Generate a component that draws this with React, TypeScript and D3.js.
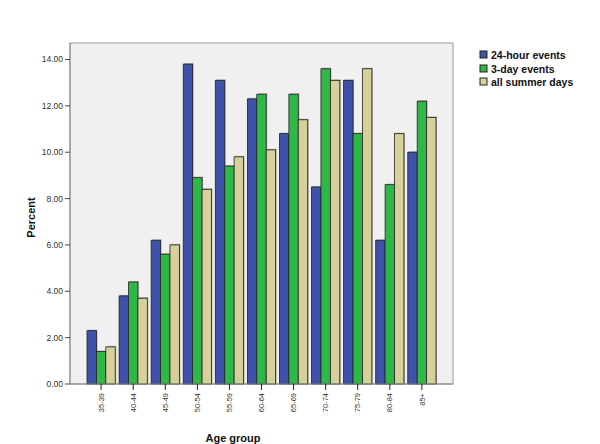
import React from "react";
import * as d3 from "d3";

const categories = ["35-39", "40-44", "45-49", "50-54", "55-59", "60-64", "65-69", "70-74", "75-79", "80-84", "85+"];
const seriesNames = ["24-hour events", "3-day events", "all summer days"];
const hour24 = [2.3, 3.8, 6.2, 13.8, 13.1, 12.3, 10.8, 8.5, 13.1, 6.2, 10.0];
const day3 = [1.4, 4.4, 5.6, 8.9, 9.4, 12.5, 12.5, 13.6, 10.8, 8.6, 12.2];
const summer = [1.6, 3.7, 6.0, 8.4, 9.8, 10.1, 11.4, 13.1, 13.6, 10.8, 11.5];
const yTicks = [0, 2, 4, 6, 8, 10, 12, 14];
const colors = ["#3d52a8", "#2fb847", "#d6d099"];

export default function App() {
  const W = 600, H = 444;
  const left = 70, right = 453, top = 43, bottom = 384;
  const x = d3.scaleBand<string>().domain(categories).range([87, 436]).paddingInner(0.12).paddingOuter(0);
  const sub = d3.scaleBand<number>().domain([0, 1, 2]).range([0, x.bandwidth()]);
  const y = d3.scaleLinear().domain([0, 14]).range([bottom, 59.5]);
  const series = [hour24, day3, summer];
  const font = "Arial, 'Liberation Sans', sans-serif";
  return (
    <svg width={W} height={H} style={{ position: "absolute", left: 0, top: 0, background: "#fff" }} fontFamily={font}>
      <rect x={left} y={top} width={right - left} height={bottom - top} fill="#f0f0f0" stroke="#999" strokeWidth={1} />
      {categories.map((c, i) =>
        series.map((s, j) => {
          const bx = (x(c) as number) + (sub(j) as number);
          const by = y(s[i]);
          return (
            <g key={c + j}>
              <rect x={bx + 1} y={by - 1} width={sub.bandwidth()} height={bottom - by + 1} fill="#777" opacity={0.6} />
              <rect x={bx} y={by} width={sub.bandwidth()} height={bottom - by} fill={colors[j]} stroke="#222" strokeWidth={0.8} />
            </g>
          );
        })
      )}
      <line x1={left} x2={left} y1={top} y2={bottom} stroke="#888" />
      <line x1={left} x2={right} y1={bottom} y2={bottom} stroke="#888" />
      {yTicks.map((t) => (
        <g key={t}>
          <line x1={left - 5} x2={left} y1={y(t)} y2={y(t)} stroke="#444" />
          <text x={left - 7} y={y(t)} dy="0.35em" textAnchor="end" fontSize={8.5} fill="#333">
            {t.toFixed(2)}
          </text>
        </g>
      ))}
      {categories.map((c) => {
        const cx = (x(c) as number) + x.bandwidth() / 2;
        return (
          <g key={c}>
            <line x1={cx} x2={cx} y1={bottom} y2={bottom + 6} stroke="#222" />
            <text transform={`translate(${cx},${bottom + 9}) rotate(-90)`} textAnchor="end" dy="0.35em" fontSize={7.5} fill="#333">
              {c}
            </text>
          </g>
        );
      })}
      <text transform={`translate(35,${(top + bottom) / 2 + 4}) rotate(-90)`} textAnchor="middle" fontSize={11} fontWeight="bold" fill="#111">
        Percent
      </text>
      <text x={233} y={442} textAnchor="middle" fontSize={11} fontWeight="bold" fill="#111">
        Age group
      </text>
      {seriesNames.map((n, i) => {
        const ly = [55, 69, 82][i];
        return (
          <g key={n}>
            <rect x={480} y={ly - 4} width={7} height={7} fill={colors[i]} stroke="#222" strokeWidth={1} />
            <text x={491} y={ly} dy="0.35em" fontSize={10.5} fontWeight="bold" fill="#111">
              {n}
            </text>
          </g>
        );
      })}
    </svg>
  );
}
